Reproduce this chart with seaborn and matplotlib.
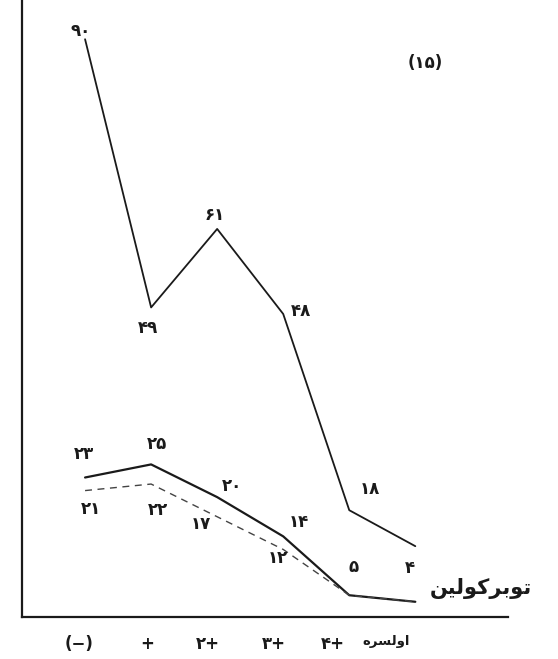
import matplotlib
matplotlib.use("Agg")
import matplotlib.pyplot as plt
import matplotlib.transforms as mtransforms
import pandas as pd
import seaborn as sns

# categories on the x axis (left to right)
categories = ["(−)", "+", "۲+", "۳+", "۴+", "اولسره"]

# upper solid curve
upper_vals = [90, 49, 61, 48, 18, 12.5]
upper_labels = ["۹۰", "۴۹", "۶۱", "۴۸", "۱۸", ""]

# lower solid curve (tuberculin)
lower_vals = [23, 25, 20, 14, 5, 4]
lower_labels = ["۲۳", "۲۵", "۲۰", "۱۴", "۵", "۴"]

# dashed curve
dashed_vals = [21, 22, 17, 12, 5, 4]
dashed_labels = ["۲۱", "۲۲", "۱۷", "۱۲", "", ""]

series_name = "توبرکولین"
figure_tag = "(۱۵)"


# matplotlib does no arabic shaping, so pick presentation forms by hand
FORMS = {
    "ا": ("\uFE8D", "\uFE8E", None, None),
    "و": ("\uFEED", "\uFEEE", None, None),
    "ر": ("\uFEAD", "\uFEAE", None, None),
    "ه": ("\uFEE9", "\uFEEA", "\uFEEB", "\uFEEC"),
    "ت": ("\uFE95", "\uFE96", "\uFE97", "\uFE98"),
    "ب": ("\uFE8F", "\uFE90", "\uFE91", "\uFE92"),
    "ک": ("\uFB8E", "\uFB8F", "\uFB90", "\uFB91"),
    "ل": ("\uFEDD", "\uFEDE", "\uFEDF", "\uFEE0"),
    "ی": ("\uFBFC", "\uFBFD", "\uFBFE", "\uFBFF"),
    "ن": ("\uFEE5", "\uFEE6", "\uFEE7", "\uFEE8"),
    "س": ("\uFEB1", "\uFEB2", "\uFEB3", "\uFEB4"),
}


def shape_fa(word):
    if not any(ch in FORMS for ch in word):
        return word
    out = []
    n = len(word)
    for i, ch in enumerate(word):
        iso, fin, ini, med = FORMS[ch]
        prev_joins = i > 0 and FORMS[word[i - 1]][2] is not None
        next_joins = i < n - 1 and ini is not None
        if prev_joins and next_joins:
            out.append(med)
        elif prev_joins:
            out.append(fin)
        elif next_joins:
            out.append(ini)
        else:
            out.append(iso)
    return "".join(reversed(out))


sns.set_style("white")
plt.rcParams["font.family"] = ["DejaVu Sans"]

x = list(range(len(categories)))
df_up = pd.DataFrame({"x": x, "y": upper_vals})
df_low = pd.DataFrame({"x": x, "y": lower_vals})
df_dash = pd.DataFrame({"x": x, "y": dashed_vals})

fig = plt.figure(figsize=(5.58, 6.59), dpi=100)
ax = fig.add_axes([0.040, 0.064, 0.870, 0.936])

ink = "#1a1a1a"
sns.lineplot(data=df_up, x="x", y="y", ax=ax, color=ink, lw=1.3)
sns.lineplot(data=df_low, x="x", y="y", ax=ax, color=ink, lw=1.6)
sns.lineplot(data=df_dash, x="x", y="y", ax=ax, color="#444444", lw=1.0,
             linestyle=(0, (5, 4)))

ax.set_xlim(-0.95, 6.4)
ax.set_ylim(1.7, 96.0)

# value labels, offsets in points
lab_kw = dict(fontsize=12, fontweight="bold", color=ink,
              ha="center", va="center", textcoords="offset points")
up_off = [(-3, 6), (-2, -15), (-2, 10), (13, 2), (15, 15), (0, 0)]
low_off = [(-1, 17), (4, 15), (11, 8), (11, 10), (3, 20), (-4, 24)]
dash_off = [(4, -13), (5, -19), (-12, -5), (-4, -6), (0, 0), (0, 0)]
for vals, labels, offs in [(upper_vals, upper_labels, up_off),
                           (lower_vals, lower_labels, low_off),
                           (dashed_vals, dashed_labels, dash_off)]:
    for xi, v, t, o in zip(x, vals, labels, offs):
        if t:
            ax.annotate(t, (xi, v), xytext=o, **lab_kw)

ax.text(5.15, 86.3, figure_tag, fontsize=12, fontweight="bold", color=ink,
        ha="center", va="center")
ax.text(5.22, 6.0, shape_fa(series_name), fontsize=15, fontweight="bold",
        color=ink, ha="left", va="center", clip_on=False)

# axes look
for side in ["top", "right"]:
    ax.spines[side].set_visible(False)
for side in ["left", "bottom"]:
    ax.spines[side].set_color(ink)
    ax.spines[side].set_linewidth(1.6)
ax.set_yticks([])
ax.set_xticks(x)
ax.set_xticklabels([shape_fa(c) for c in categories], fontsize=12,
                   fontweight="bold", color=ink)
ax.tick_params(axis="x", direction="in", length=3, width=1, color=ink, pad=13)
dx = [-4, 2, 2, 2, -3, -4]
for i, lbl in enumerate(ax.get_xticklabels()):
    lbl.set_ha("center" if i == 0 else "right")
    lbl.set_transform(lbl.get_transform()
                      + mtransforms.ScaledTranslation(dx[i] / 72, 0, fig.dpi_scale_trans))
    if i == len(categories) - 1:
        lbl.set_fontsize(9.5)
ax.set_xlabel("")
ax.set_ylabel("")

fig.savefig("out.png", dpi=100)
